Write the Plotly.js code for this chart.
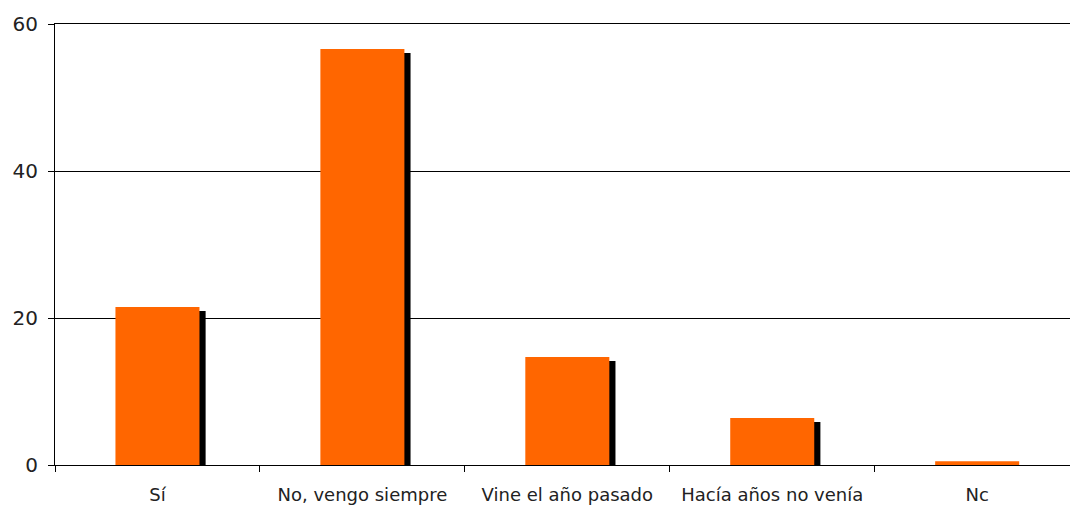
<!DOCTYPE html>
<html>
<head>
<meta charset="utf-8">
<script src="https://cdn.plot.ly/plotly-3.0.1.min.js"></script>
<style>
  html, body { margin: 0; padding: 0; background: #fff; }
  #chart { width: 1070px; height: 506px; }
</style>
</head>
<body>
<div id="chart"></div>
<script>
// Respuestas (%)
const categories = ["Sí", "No, vengo siempre", "Vine el año pasado", "Hacía años no venía", "Nc"];
const values = [21.5, 56.6, 14.7, 6.4, 0.5];

// Drop shadow: same bars, nudged right and slightly lower
const shadowDrop = 0.55;     // in axis units
const shadowShift = 0.03;    // in category units
const barWidth = 0.41;

const shadowValues = values.map(v => Math.max(0, v - shadowDrop));

const shadow = {
  type: "bar",
  x: categories,
  y: shadowValues,
  width: barWidth,
  offset: -barWidth / 2 + shadowShift,
  marker: { color: "#000000", line: { width: 0 } },
  hoverinfo: "skip",
  showlegend: false
};

const bars = {
  type: "bar",
  x: categories,
  y: values,
  width: barWidth,
  offset: -barWidth / 2,
  marker: { color: "#FF6600", line: { width: 0 } },
  showlegend: false
};

const layout = {
  width: 1070,
  height: 506,
  margin: { l: 55, r: 0, t: 24, b: 41, pad: 0 },
  paper_bgcolor: "#ffffff",
  plot_bgcolor: "#ffffff",
  barmode: "overlay",
  font: { family: "DejaVu Sans, sans-serif", size: 18, color: "#222222" },
  xaxis: {
    type: "category",
    range: [-0.5, 4.453],
    tickson: "boundaries",
    ticks: "outside",
    ticklen: 6,
    tickcolor: "#000000",
    showline: true,
    mirror: true,
    linecolor: "#000000",
    linewidth: 1,
    showgrid: false,
    zeroline: false,
    ticklabelstandoff: 13,
    tickfont: { size: 18, color: "#222222" },
    automargin: false
  },
  yaxis: {
    range: [0, 60],
    tickvals: [0, 20, 40, 60],
    ticks: "outside",
    ticklen: 6,
    tickcolor: "#000000",
    showline: true,
    linecolor: "#000000",
    linewidth: 1,
    showgrid: true,
    gridcolor: "#000000",
    gridwidth: 1,
    zeroline: false,
    ticklabelstandoff: 6,
    tickfont: { size: 20, color: "#222222" },
    automargin: false
  }
};

Plotly.newPlot("chart", [shadow, bars], layout, { staticPlot: true, displayModeBar: false });
</script>
</body>
</html>
